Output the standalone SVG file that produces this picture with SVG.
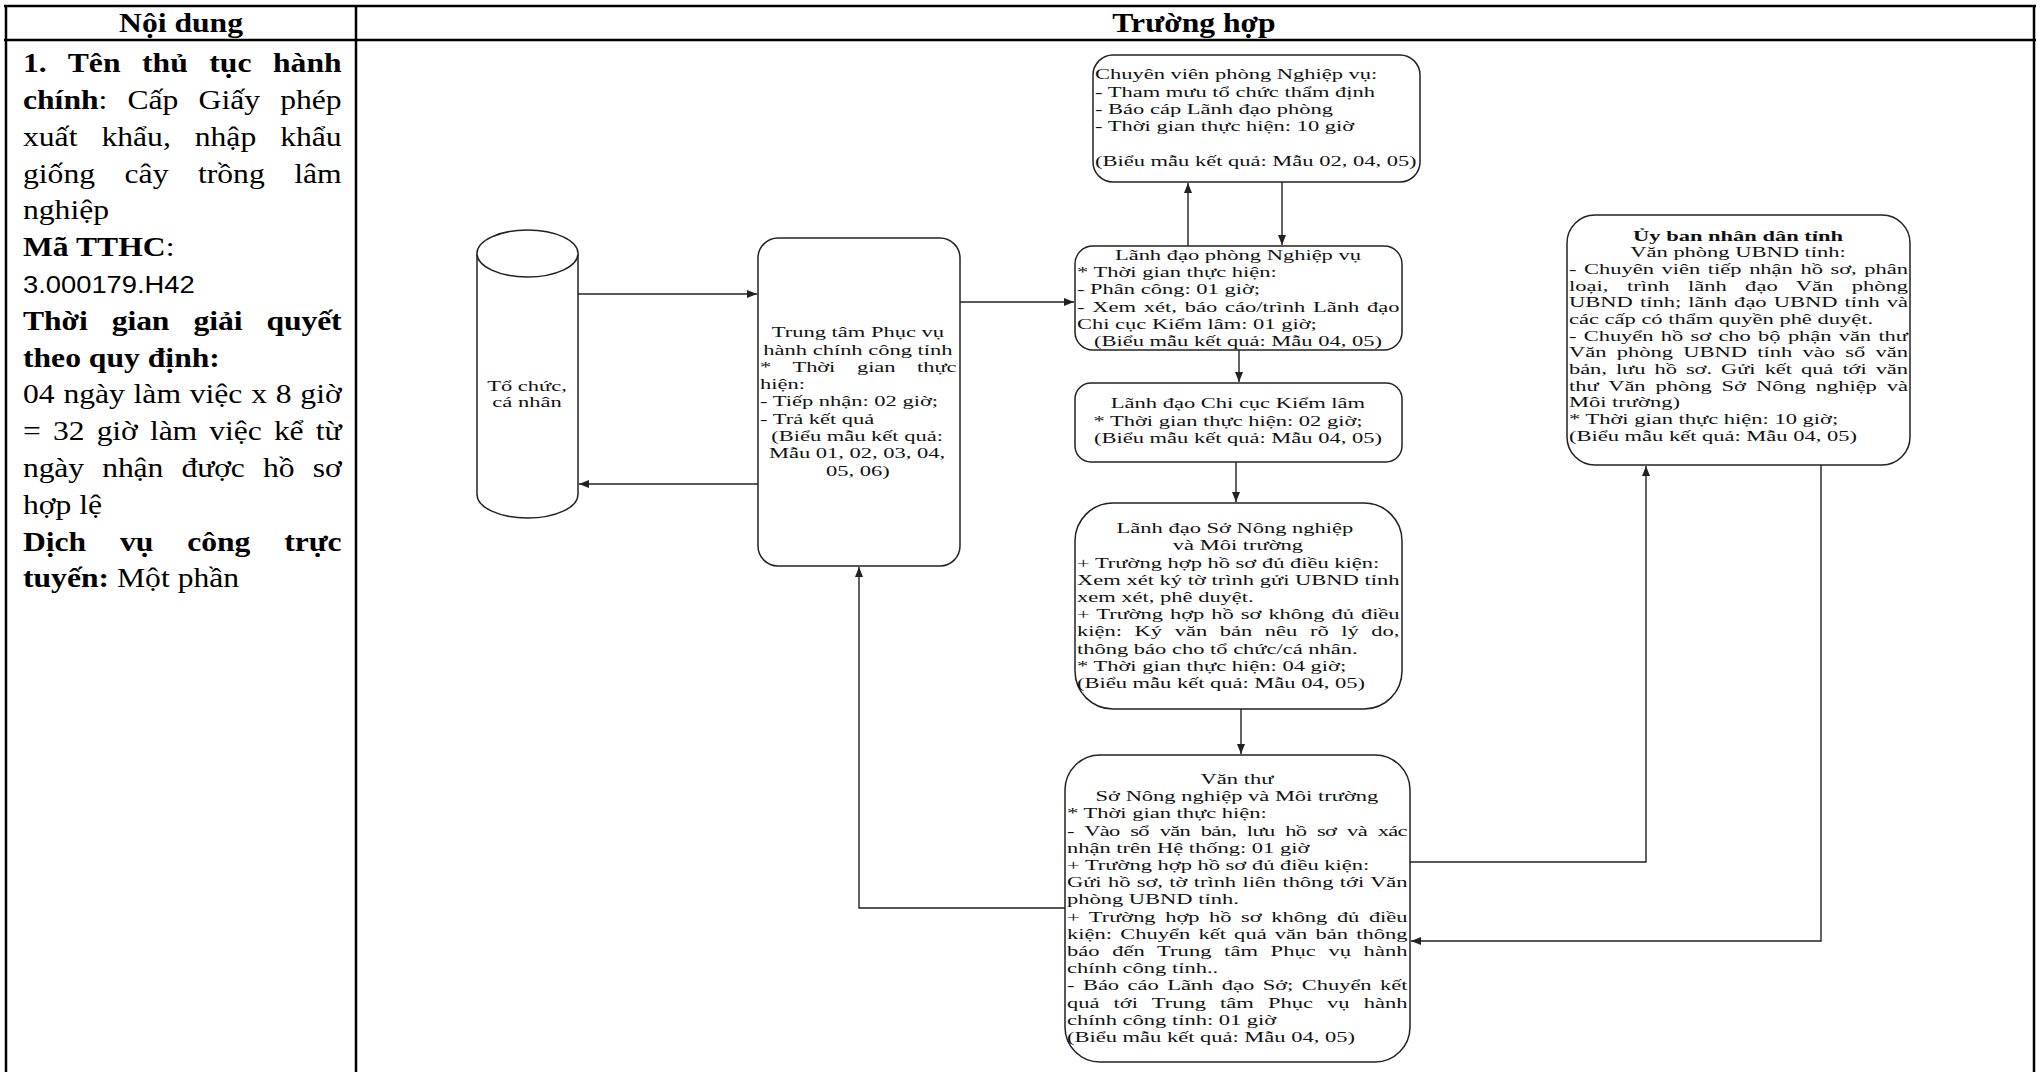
<svg xmlns="http://www.w3.org/2000/svg" width="2040" height="1072" viewBox="0 0 2040 1072">
<style>
.tbl{stroke:#000;stroke-width:2.5;fill:none}
.box{fill:#fff;stroke:#222;stroke-width:1.5}
.con{fill:none;stroke:#222;stroke-width:1.4}
.t{font-family:"Liberation Serif","Times New Roman",serif;font-size:15px;fill:#111}
.L{font-family:"Liberation Serif","Times New Roman",serif;font-size:28px;fill:#000}
.S{font-family:"Liberation Sans",Arial,sans-serif;font-size:23px;fill:#000}
.b{font-weight:bold}
.m{text-anchor:middle}
</style>
<defs>
<marker id="ah" markerWidth="10" markerHeight="8" refX="10" refY="4" orient="auto" markerUnits="userSpaceOnUse"><path d="M0,0 L10,4 L0,8 z" fill="#222"/></marker>
</defs>
<rect width="2040" height="1072" fill="#fff"/>
<g id="table">
<line class="tbl" x1="4" y1="6" x2="2036" y2="6"/>
<line class="tbl" x1="4" y1="40" x2="2036" y2="40"/>
<line class="tbl" x1="6" y1="6" x2="6" y2="1072"/>
<line class="tbl" x1="356" y1="6" x2="356" y2="1072"/>
<line class="tbl" x1="2034" y1="6" x2="2034" y2="1072"/>
<text class="L b m" transform="matrix(1.13 0 0 1 181 0)" x="0" y="32">Nội dung</text>
<text class="L b m" transform="matrix(1.13 0 0 1 1194 0)" x="0" y="32">Trường hợp</text>
</g>
<g id="content" transform="matrix(1.13 0 0 1 23 0)">
<text class="L b" x="0" y="72.3" style="word-spacing:11.9px" textLength="282" lengthAdjust="spacing">1. Tên thủ tục hành</text>
<text class="L" x="0" y="109.1" style="word-spacing:10.8px" textLength="282" lengthAdjust="spacing"><tspan class="b">chính</tspan>: Cấp Giấy phép</text>
<text class="L" x="0" y="145.9" style="word-spacing:14.2px" textLength="282" lengthAdjust="spacing">xuất khẩu, nhập khẩu</text>
<text class="L" x="0" y="182.7" style="word-spacing:19px" textLength="282" lengthAdjust="spacing">giống cây trồng lâm</text>
<text class="L" x="0" y="219.5">nghiệp</text>
<text class="L" x="0" y="256.3"><tspan class="b">Mã TTHC</tspan>:</text>
<text class="S" x="0" y="293.1" textLength="152" lengthAdjust="spacingAndGlyphs">3.000179.H42</text>
<text class="L b" x="0" y="329.9" style="word-spacing:14.4px" textLength="282" lengthAdjust="spacing">Thời gian giải quyết</text>
<text class="L b" x="0" y="366.7">theo quy định:</text>
<text class="L" x="0" y="403.5" style="word-spacing:0.8px" textLength="282" lengthAdjust="spacing">04 ngày làm việc x 8 giờ</text>
<text class="L" x="0" y="440.3" style="word-spacing:3.9px" textLength="282" lengthAdjust="spacing">= 32 giờ làm việc kể từ</text>
<text class="L" x="0" y="477.1" style="word-spacing:9.4px" textLength="282" lengthAdjust="spacing">ngày nhận được hồ sơ</text>
<text class="L" x="0" y="513.9">hợp lệ</text>
<text class="L b" x="0" y="550.7" style="word-spacing:23.2px" textLength="282" lengthAdjust="spacing">Dịch vụ công trực</text>
<text class="L" x="0" y="587.5"><tspan class="b">tuyến:</tspan> Một phần</text>
</g>
<g id="n-tochuc">
<path class="box" d="M477,253.5 L477,494.5 A50.5,23.5 0 0 0 578,494.5 L578,253.5 A50.5,23.5 0 0 0 477,253.5 Z"/>
<path class="box" fill="none" d="M477,253.5 A50.5,23.5 0 0 0 578,253.5"/>
<g transform="matrix(1.5 0 0 1 527 0)">
<text class="t m" x="0" y="390.7">Tổ chức,</text>
<text class="t m" x="0" y="407.3">cá nhân</text>
</g>
</g>
<g id="n-trungtam">
<rect class="box" x="758" y="238" width="202" height="328" rx="20"/>
<g transform="matrix(1.5 0 0 1 760 0)">
<text class="t m" x="65.3" y="337.3">Trung tâm Phục vụ</text>
<text class="t m" x="65.3" y="354.6">hành chính công tỉnh</text>
<text class="t" x="0" y="371.9" style="word-spacing:10.8px" textLength="131" lengthAdjust="spacing">* Thời gian thực</text>
<text class="t" x="0" y="389.2">hiện:</text>
<text class="t" x="0" y="406.5">- Tiếp nhận: 02 giờ;</text>
<text class="t" x="0" y="423.8">- Trả kết quả</text>
<text class="t m" x="64.7" y="441.1">(Biểu mẫu kết quả:</text>
<text class="t m" x="64.7" y="458.4">Mẫu 01, 02, 03, 04,</text>
<text class="t m" x="65.3" y="475.7">05, 06)</text>
</g>
</g>
<g id="n-chuyenvien">
<rect class="box" x="1093" y="55" width="327" height="127" rx="20"/>
<g transform="matrix(1.5 0 0 1 1095 0)">
<text class="t" x="0" y="79.3">Chuyên viên phòng Nghiệp vụ:</text>
<text class="t" x="0" y="96.6">- Tham mưu tổ chức thẩm định</text>
<text class="t" x="0" y="113.9">- Báo cáp Lãnh đạo phòng</text>
<text class="t" x="0" y="131.2">- Thời gian thực hiện: 10 giờ</text>
<text class="t" x="0" y="165.8">(Biểu mẫu kết quả: Mẫu 02, 04, 05)</text>
</g>
</g>
<g id="n-lanhdaophong">
<rect class="box" x="1075" y="246" width="327" height="104" rx="18"/>
<g transform="matrix(1.5 0 0 1 1077 0)">
<text class="t m" x="107.3" y="260">Lãnh đạo phòng Nghiệp vụ</text>
<text class="t" x="0" y="277.2">* Thời gian thực hiện:</text>
<text class="t" x="0" y="294.4">- Phân công: 01 giờ;</text>
<text class="t" x="0" y="311.6" style="word-spacing:1.4px" textLength="215" lengthAdjust="spacing">- Xem xét, báo cáo/trình Lãnh đạo</text>
<text class="t" x="0" y="328.8">Chi cục Kiểm lâm: 01 giờ;</text>
<text class="t m" x="107.3" y="346">(Biểu mẫu kết quả: Mẫu 04, 05)</text>
</g>
</g>
<g id="n-chicuc">
<rect class="box" x="1075" y="383" width="327" height="79" rx="16"/>
<g transform="matrix(1.5 0 0 1 1077 0)">
<text class="t m" x="107.3" y="408.3">Lãnh đạo Chi cục Kiểm lâm</text>
<text class="t m" x="100.7" y="426">* Thời gian thực hiện: 02 giờ;</text>
<text class="t m" x="107.3" y="443.3">(Biểu mẫu kết quả: Mẫu 04, 05)</text>
</g>
</g>
<g id="n-lanhdaoso">
<rect class="box" x="1075" y="503" width="327" height="206" rx="38"/>
<g transform="matrix(1.5 0 0 1 1077 0)">
<text class="t m" x="105.3" y="533.3">Lãnh đạo Sở Nông nghiệp</text>
<text class="t m" x="107.3" y="550.5">và Môi trường</text>
<text class="t" x="0" y="567.7">+ Trường hợp hồ sơ đủ điều kiện:</text>
<text class="t" x="0" y="584.9" textLength="215" lengthAdjust="spacing">Xem xét ký tờ trình gửi UBND tỉnh</text>
<text class="t" x="0" y="602.1">xem xét, phê duyệt.</text>
<text class="t" x="0" y="619.3" style="word-spacing:1px" textLength="215" lengthAdjust="spacing">+ Trường hợp hồ sơ không đủ điều</text>
<text class="t" x="0" y="636.5" style="word-spacing:4.6px" textLength="215" lengthAdjust="spacing">kiện: Ký văn bản nêu rõ lý do,</text>
<text class="t" x="0" y="653.7">thông báo cho tổ chức/cá nhân.</text>
<text class="t" x="0" y="670.9">* Thời gian thực hiện: 04 giờ;</text>
<text class="t" x="0" y="688.1">(Biểu mẫu kết quả: Mẫu 04, 05)</text>
</g>
</g>
<g id="n-vanthu">
<rect class="box" x="1065" y="755" width="345" height="307" rx="35"/>
<g transform="matrix(1.5 0 0 1 1067 0)">
<text class="t m" x="113.3" y="784">Văn thư</text>
<text class="t m" x="113.3" y="801.2">Sở Nông nghiệp và Môi trường</text>
<text class="t" x="0" y="818.4">* Thời gian thực hiện:</text>
<text class="t" x="0" y="835.6" style="word-spacing:3.9px" textLength="227" lengthAdjust="spacing">- Vào sổ văn bản, lưu hồ sơ và xác</text>
<text class="t" x="0" y="852.8">nhận trên Hệ thống: 01 giờ</text>
<text class="t" x="0" y="870">+ Trường hợp hồ sơ đủ điều kiện:</text>
<text class="t" x="0" y="887.2" style="word-spacing:0.6px" textLength="227" lengthAdjust="spacing">Gửi hồ sơ, tờ trình liên thông tới Văn</text>
<text class="t" x="0" y="904.4">phòng UBND tỉnh.</text>
<text class="t" x="0" y="921.6" style="word-spacing:2.7px" textLength="227" lengthAdjust="spacing">+ Trường hợp hồ sơ không đủ điều</text>
<text class="t" x="0" y="938.8" style="word-spacing:1.7px" textLength="227" lengthAdjust="spacing">kiện: Chuyển kết quả văn bản thông</text>
<text class="t" x="0" y="956" style="word-spacing:4.6px" textLength="227" lengthAdjust="spacing">báo đến Trung tâm Phục vụ hành</text>
<text class="t" x="0" y="973.2">chính công tỉnh..</text>
<text class="t" x="0" y="990.4" style="word-spacing:1.9px" textLength="227" lengthAdjust="spacing">- Báo cáo Lãnh đạo Sở; Chuyển kết</text>
<text class="t" x="0" y="1007.6" style="word-spacing:5.6px" textLength="227" lengthAdjust="spacing">quả tới Trung tâm Phục vụ hành</text>
<text class="t" x="0" y="1024.8">chính công tỉnh: 01 giờ</text>
<text class="t" x="0" y="1042">(Biểu mẫu kết quả: Mẫu 04, 05)</text>
</g>
</g>
<g id="n-ubnd">
<rect class="box" x="1567" y="215" width="343" height="250" rx="28"/>
<g transform="matrix(1.5 0 0 1 1569 0)">
<text class="t b m" x="112.7" y="240.7">Ủy ban nhân dân tỉnh</text>
<text class="t m" x="112.7" y="257.4">Văn phòng UBND tỉnh:</text>
<text class="t" x="0" y="274" style="word-spacing:1.3px" textLength="226" lengthAdjust="spacing">- Chuyên viên tiếp nhận hồ sơ, phân</text>
<text class="t" x="0" y="290.7" style="word-spacing:8.5px" textLength="226" lengthAdjust="spacing">loại, trình lãnh đạo Văn phòng</text>
<text class="t" x="0" y="307.4" style="word-spacing:1px" textLength="226" lengthAdjust="spacing">UBND tỉnh; lãnh đạo UBND tỉnh và</text>
<text class="t" x="0" y="324">các cấp có thẩm quyền phê duyệt.</text>
<text class="t" x="0" y="340.7" style="word-spacing:1.2px" textLength="226" lengthAdjust="spacing">- Chuyển hồ sơ cho bộ phận văn thư</text>
<text class="t" x="0" y="357.4" style="word-spacing:3.1px" textLength="226" lengthAdjust="spacing">Văn phòng UBND tỉnh vào sổ văn</text>
<text class="t" x="0" y="374" style="word-spacing:2.4px" textLength="226" lengthAdjust="spacing">bản, lưu hồ sơ. Gửi kết quả tới văn</text>
<text class="t" x="0" y="390.7" style="word-spacing:2.9px" textLength="226" lengthAdjust="spacing">thư Văn phòng Sở Nông nghiệp và</text>
<text class="t" x="0" y="407.4">Môi trường)</text>
<text class="t" x="0" y="424">* Thời gian thực hiện: 10 giờ;</text>
<text class="t" x="0" y="440.7">(Biểu mẫu kết quả: Mẫu 04, 05)</text>
</g>
</g>
<g id="connectors">
<path class="con" d="M578,294 H757" marker-end="url(#ah)"/>
<path class="con" d="M758,484 H579" marker-end="url(#ah)"/>
<path class="con" d="M960,302 H1074" marker-end="url(#ah)"/>
<path class="con" d="M1188,246 V183" marker-end="url(#ah)"/>
<path class="con" d="M1282,182 V245" marker-end="url(#ah)"/>
<path class="con" d="M1239,350 V382" marker-end="url(#ah)"/>
<path class="con" d="M1236,462 V502" marker-end="url(#ah)"/>
<path class="con" d="M1241,709 V754" marker-end="url(#ah)"/>
<path class="con" d="M1410,862 H1646 V466" marker-end="url(#ah)"/>
<path class="con" d="M1821,465 V941 H1411" marker-end="url(#ah)"/>
<path class="con" d="M1065,908 H859 V567" marker-end="url(#ah)"/>
</g>
</svg>
